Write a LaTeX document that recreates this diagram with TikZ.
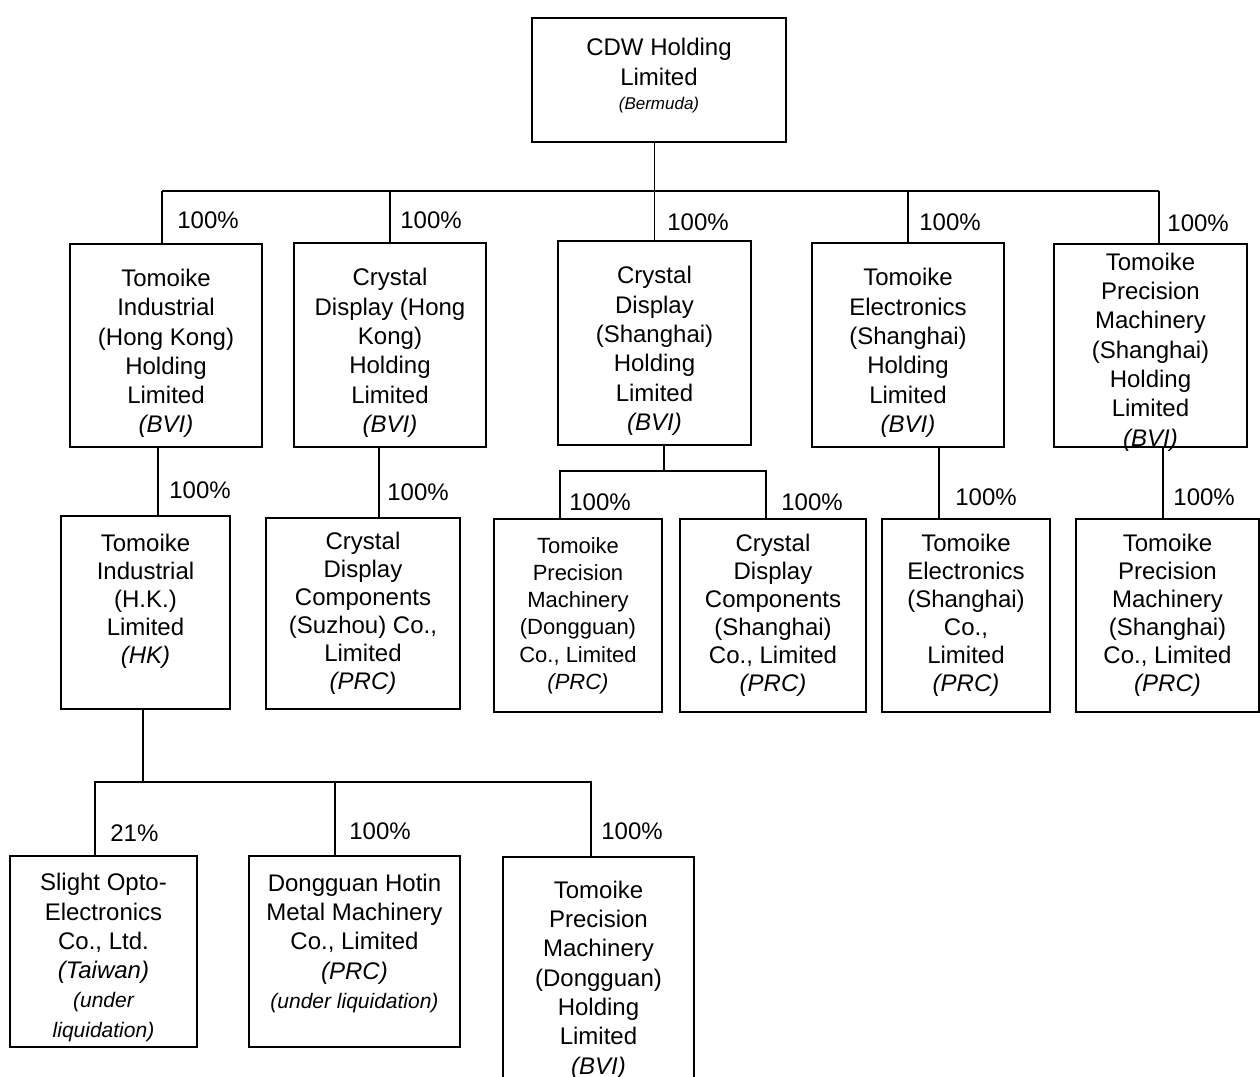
\documentclass[tikz,border=0pt]{standalone}
\usepackage{fontspec}
\setmainfont{Liberation Sans}
\usetikzlibrary{positioning}

\newcommand{\juris}[1]{\textit{#1}}
\newcommand{\liqnote}[1]{{\fontsize{10.5}{14.65}\selectfont\itshape #1}}
\newcommand{\padtop}[1]{\rule{0pt}{#1}}
\newcommand{\padbot}[1]{\rule[-#1]{0pt}{0pt}}

\begin{document}
\begin{tikzpicture}[x=0.5pt, y=-0.5pt, every node/.style={font=\fontsize{12}{14.65}\selectfont}]
\tikzstyle{box}=[draw, line width=0.9pt, align=center, inner sep=0pt]
\tikzstyle{pct}=[anchor=west, inner sep=0pt]
\tikzstyle{link}=[line width=0.8pt]
\useasboundingbox (0,0) rectangle (1260,1077);

% holding company
\node[box, minimum width=127pt, minimum height=62pt] (cdw) at (659,80) {CDW Holding\\Limited\\[-2.5pt]{\fontsize{8.5}{10}\selectfont\itshape (Bermuda)}\padbot{6pt}};

% BVI holdings
\node[box, minimum width=96pt, minimum height=101.5pt] (tih) at (166,345.5) {\padtop{16.7pt}Tomoike\\Industrial\\(Hong Kong)\\Holding\\Limited\\\juris{(BVI)}};
\node[box, minimum width=96pt, minimum height=102pt] (cdh) at (390,345) {\padtop{16.7pt}Crystal\\Display (Hong\\Kong)\\Holding\\Limited\\\juris{(BVI)}};
\node[box, minimum width=96.5pt, minimum height=102pt] (cds) at (654.5,343) {\padtop{16.7pt}Crystal\\Display\\(Shanghai)\\Holding\\Limited\\\juris{(BVI)}};
\node[box, minimum width=96pt, minimum height=102pt] (tes) at (908,345) {\padtop{16.7pt}Tomoike\\Electronics\\(Shanghai)\\Holding\\Limited\\\juris{(BVI)}};
\node[box, minimum width=96.5pt, minimum height=101.5pt] (tps) at (1150.5,345.5) {\padtop{12.6pt}Tomoike\\Precision\\Machinery\\(Shanghai)\\Holding\\Limited\\\smash{\juris{(BVI)}}};

% operating companies
\node[box, font=\fontsize{12}{14}\selectfont, minimum width=84.5pt, minimum height=96.5pt] (tihk) at (145.5,612.5) {Tomoike\\Industrial\\(H.K.)\\Limited\\\juris{(HK)}\\ \mbox{}};
\node[box, font=\fontsize{12}{14}\selectfont, minimum width=97pt, minimum height=95.5pt] (cdsz) at (363,613.5) {Crystal\\Display\\Components\\(Suzhou) Co.,\\Limited\\\juris{(PRC)}};
\node[box, font=\fontsize{11}{13.6}\selectfont, minimum width=84pt, minimum height=96.5pt] (tpdg) at (578,615.5) {Tomoike\\Precision\\Machinery\\(Dongguan)\\Co., Limited\\\juris{(PRC)}};
\node[box, font=\fontsize{12}{14}\selectfont, minimum width=93pt, minimum height=96.5pt] (cdcs) at (773,615.5) {Crystal\\Display\\Components\\(Shanghai)\\Co., Limited\\\juris{(PRC)}};
\node[box, font=\fontsize{12}{14}\selectfont, minimum width=84pt, minimum height=96.5pt] (tesc) at (966,615.5) {Tomoike\\Electronics\\(Shanghai)\\Co.,\\Limited\\\juris{(PRC)}};
\node[box, font=\fontsize{12}{14}\selectfont, minimum width=91.5pt, minimum height=96.5pt] (tpsc) at (1167.5,615.5) {Tomoike\\Precision\\Machinery\\(Shanghai)\\Co., Limited\\\juris{(PRC)}};

% under Tomoike Industrial (H.K.)
\node[box, minimum width=93.5pt, minimum height=95.5pt] (slight) at (103.5,951.5) {\padtop{14.7pt}Slight Opto-\\Electronics\\Co., Ltd.\\\juris{(Taiwan)}\\\liqnote{(under}\\\liqnote{liquidation)}};
\node[box, minimum width=105.5pt, minimum height=95.5pt] (hotin) at (354.5,951.5) {Dongguan Hotin\\Metal Machinery\\Co., Limited\\\juris{(PRC)}\\\liqnote{(under liquidation)}\padbot{10.5pt}};
\node[box, minimum width=95.5pt, minimum height=123pt] (tpdh) at (598.5,980) {Tomoike\\Precision\\Machinery\\(Dongguan)\\Holding\\Limited\\\juris{(BVI)}};

% connectors
\coordinate (bus1) at (0,191);
\coordinate (bus2) at (0,471);
\coordinate (bus3) at (0,782);
\draw[link] (cdw.south -| cds.north) -- (cds.north);
\draw[link, line width=1.2pt] ([xshift=-2pt]tih.north |- bus1) -- ([xshift=4.25pt]tps.north |- bus1);
\draw[link] ([xshift=-2pt]tih.north) -- ([xshift=-2pt]tih.north |- bus1); \draw[link] (cdh.north) -- (cdh.north |- bus1);
\draw[link] (tes.north) -- (tes.north |- bus1); \draw[link] ([xshift=4.25pt]tps.north) -- ([xshift=4.25pt]tps.north |- bus1);
\draw[link] ([xshift=6.25pt]tihk.north) -- ([xshift=6.25pt]tihk.north |- tih.south);
\draw[link] ([xshift=8pt]cdsz.north) -- ([xshift=8pt]cdsz.north |- cdh.south);
\draw[link] ([xshift=4.75pt]cds.south) -- ([xshift=4.75pt]cds.south |- bus2);
\draw[link] ([xshift=-9pt]tpdg.north) |- ([xshift=-3.5pt]cdcs.north |- bus2) -- ([xshift=-3.5pt]cdcs.north);
\draw[link] ([xshift=-13.5pt]tesc.north) -- ([xshift=-13.5pt]tesc.north |- tes.south);
\draw[link] ([xshift=-2.25pt]tpsc.north) -- ([xshift=-2.25pt]tpsc.north |- tps.south);
\draw[link] ([xshift=-1.25pt]tihk.south) -- ([xshift=-1.25pt]tihk.south |- bus3);
\draw[link] ([xshift=-4.25pt]slight.north) |- ([xshift=-3.75pt]tpdh.north |- bus3) -- ([xshift=-3.75pt]tpdh.north);
\draw[link] ([xshift=-9.75pt]hotin.north) -- ([xshift=-9.75pt]hotin.north |- bus3);

% shareholdings
\node[pct] (s1) at (177,220) {100\%};
\node[pct] (s2) at (400,220) {100\%};
\node[pct] (s3) at (667,222) {100\%};
\node[pct] (s4) at (919,222) {100\%};
\node[pct] (s5) at (1167,223) {100\%};
\node[pct] (s6) at (169,490) {100\%};
\node[pct] (s7) at (387,492) {100\%};
\node[pct] (s8) at (569,502) {100\%};
\node[pct] (s9) at (781,502) {100\%};
\node[pct] (s10) at (955,497) {100\%};
\node[pct] (s11) at (1173,497) {100\%};
\node[pct] (s12) at (110,833) {21\%};
\node[pct] (s13) at (349,831) {100\%};
\node[pct] (s14) at (601,831) {100\%};
\end{tikzpicture}
\end{document}
